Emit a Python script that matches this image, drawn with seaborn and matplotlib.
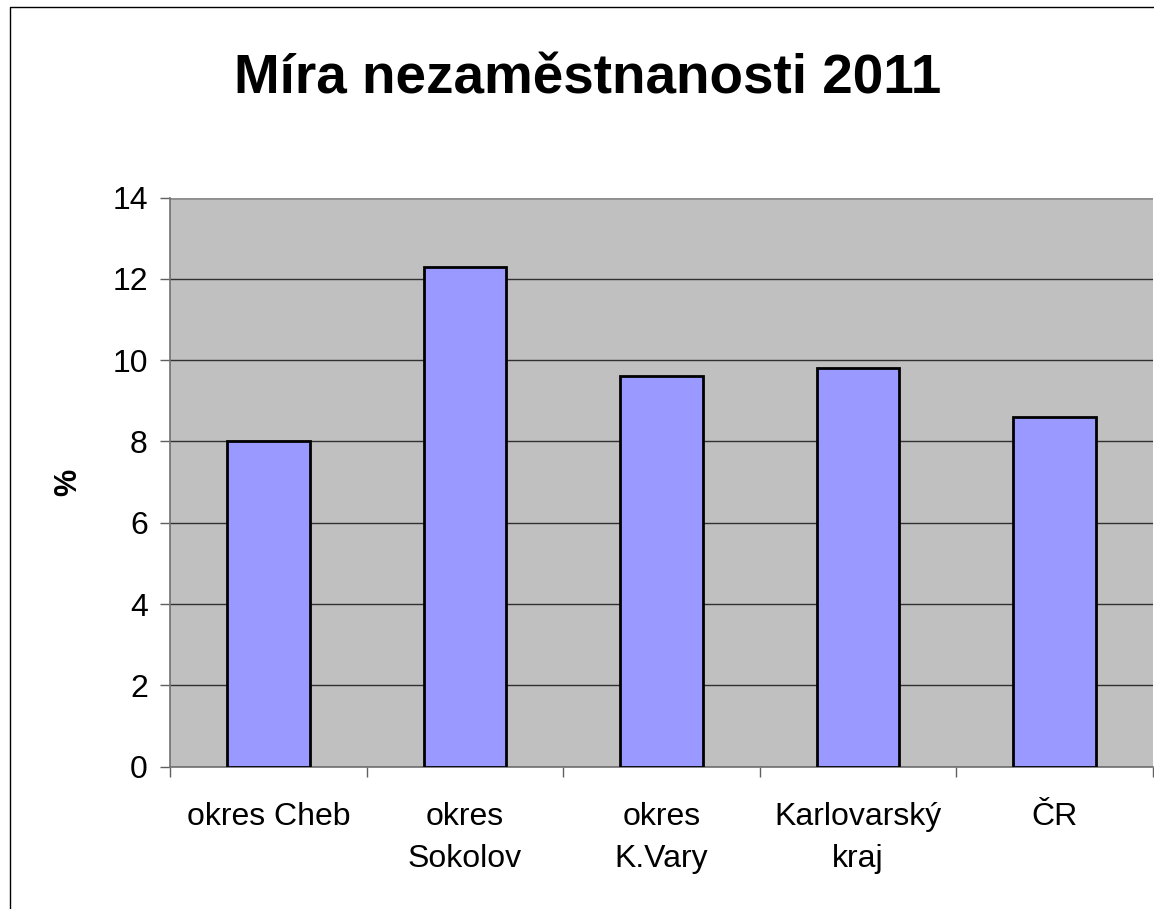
import matplotlib
matplotlib.use("Agg")
import matplotlib.pyplot as plt
import seaborn as sns
import pandas as pd
from matplotlib.lines import Line2D

regions = ["okres Cheb", "okres\nSokolov", "okres\nK.Vary", "Karlovarský\nkraj", "ČR"]
rates = [8.0, 12.3, 9.6, 9.8, 8.6]
y_ticks = [0, 2, 4, 6, 8, 10, 12, 14]

BAR = '#9999FF'
PLOT_BG = '#C0C0C0'

sns.set_style("white")
plt.rcParams['font.family'] = ['Liberation Sans', 'DejaVu Sans']
plt.rcParams['text.color'] = 'black'
plt.rcParams['xtick.color'] = 'black'
plt.rcParams['ytick.color'] = 'black'

W, H = 1154, 909
fig = plt.figure(figsize=(W / 100, H / 100), dpi=100)
ax = fig.add_axes([170 / W, 1 - 766.7 / H, (1153 - 170) / W, (766.7 - 197.5) / H])
ax.set_facecolor(PLOT_BG)

df = pd.DataFrame({'region': regions, 'rate': rates})
sns.barplot(data=df, x='region', y='rate', color=BAR, saturation=1,
            edgecolor='black', linewidth=2, width=0.42, ax=ax, zorder=3)

ax.set_ylim(0, 14)
ax.set_xlim(-0.5, len(regions) - 0.5)
ax.set_yticks(y_ticks)
ax.yaxis.grid(True, color='#303030', linewidth=1, zorder=1)
ax.set_axisbelow(True)

ax.set_xticks(range(len(regions)))
ax.set_xticklabels(regions, fontsize=23, linespacing=1.5)
ax.set_xticks([i - 0.5 for i in range(len(regions) + 1)], minor=True)
ax.tick_params(axis='x', which='major', bottom=False, pad=22, labelcolor='black')
ax.tick_params(axis='x', which='minor', bottom=True, length=7, width=1,
               color='#606060', direction='out')
ax.tick_params(axis='y', left=True, labelsize=23, length=7, width=1,
               color='#606060', labelcolor='black', pad=9, direction='out')
ax.set_xlabel('')
ax.set_ylabel('')

for side in ['top', 'right']:
    ax.spines[side].set_visible(False)
for side in ['left', 'bottom']:
    ax.spines[side].set_color('#707070')
    ax.spines[side].set_linewidth(1.2)
ax.axhline(14, color='#909090', linewidth=2, zorder=2)

fig.text(588 / W, 1 - 79 / H, "Míra nezaměstnanosti 2011", fontsize=39.5,
         fontweight='bold', ha='center', va='center')
fig.text(68 / W, 1 - 482 / H, "%", fontsize=22, fontweight='bold',
         rotation=90, ha='center', va='center')

fig.add_artist(Line2D([10 / W, 10 / W, 1.0], [0.0, 1 - 7 / H, 1 - 7 / H],
                      transform=fig.transFigure, color='black', linewidth=1))

fig.savefig("out.png", dpi=100)
